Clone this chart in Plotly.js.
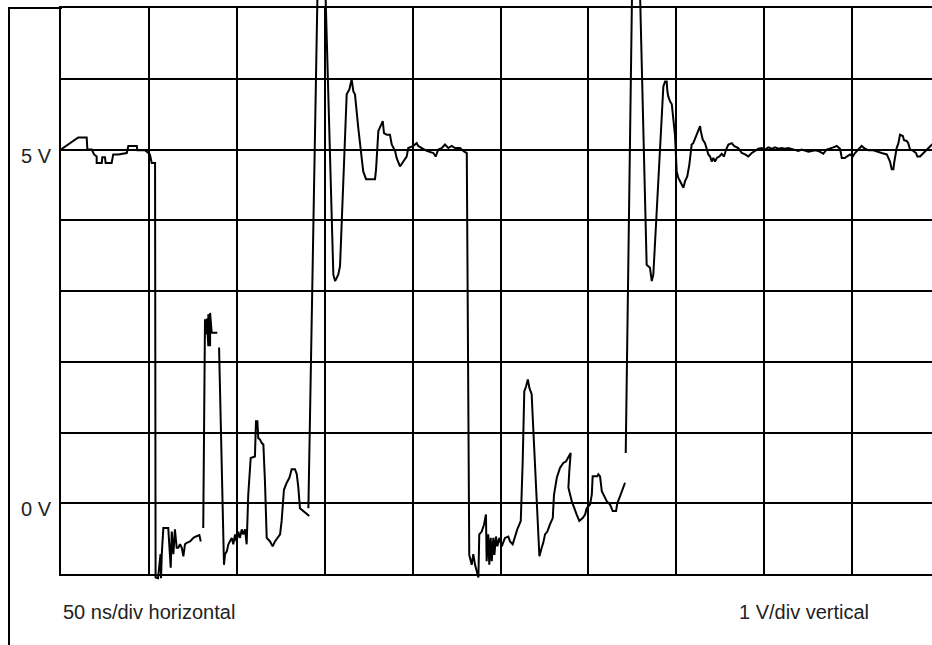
<!DOCTYPE html>
<html>
<head>
<meta charset="utf-8">
<script src="https://cdn.plot.ly/plotly-3.0.1.min.js"></script>
<style>
  html, body { margin: 0; padding: 0; background: #fff; }
  #chart { width: 932px; height: 645px; }
</style>
</head>
<body>
<div id="chart"></div>
<script>
// Time in ns (50 ns/div), voltage in V (1 V/div). null = gap in the trace.
const timeNs = [
  0, 9.8, 14.6, 15.0, 17.5, 18.8, 20.3, 20.3, 23.2, 23.5, 25.0, 25.4, 28.8, 29.7, 32.6, 37.4, 38.3, 43.1, 43.4, 47.8,
  49.7, 50.6, 51.6, 53.5, 53.8, 55.2, 56.6, 56.9, 57.3, 58.2, 61.0, 61.6, 62.4, 63.0, 63.9, 64.8, 65.8, 66.7, 67.7, 68.7,
  69.6, 70.5, 71.5, 73.4, 75.3, 76.8, 78.7, 79.5, null,
  80.9, 81.9, 81.9, 82.9, 82.9, 83.8, 83.8, 84.8, 84.8, 85.7, 88.9, null,
  89.9, 92.7, 93.3, 94.3, 95.2, 96.1, 97.1, 98.0, 99.0, 99.9, 100.8, 101.8, 102.8, 103.7, 104.7, 105.6, 106.5, 107.9, 110.3,
  110.9, 111.7, 112.2, 113.2, 114.2, 115.1, 116.0, 117.0, 118.9, 120.4, 121.7, 123.0, 124.6, 125.5, 126.8, 128.4, 129.9,
  131.2, 133.1, 134.1, 135.0, 135.9, 137.8, 139.8, 141.2, null,
  140.7, 145.9, 150.4, 154.9, 155.9, 157.7, 158.7, 162.5, 164.0, 165.3, 166.3, 167.2, 169.1, 171.9, 173.5, 178.6, 179.2,
  180.5, 183.0, 183.7, 185.3, 187.1, 188.1, 190.0, 190.9, 192.8, 194.7, 196.6, 197.5, 200.4, 202.3, 203.2, 205.2, 208.0,
  211.8, 213.1, 214.6, 216.5, 218.4, 220.3, 222.2, 224.1, 227.0, 228.8, 230.8, 232.2, 233.6, 234.5, 235.5, 236.4, 237.4,
  237.9, 239.3, 240.6, 241.7, 242.1, 243.0, 243.6, 244.4, 245.0, 245.9, 246.5, 247.4, 248.2, 249.3, 250.7, 252.5, 254.4,
  255.4, 256.9, 258.2, 259.5, 260.7, 261.5, 262.6, 263.5, 264.5, 265.5, 266.4, 267.2, 267.7, 268.6, 270.6, 272.1, 273.4,
  274.3, 275.3, 276.6, 278.1, 279.7, 280.4, 282.0, 283.8, 285.7, 287.2, 288.6, 289.9, 289.1, 288.6, 290.5, 291.8, 293.3,
  294.8, 296.7, 298.1, 299.0, 300.9, 301.9, 302.4, 305.0, 305.6, 306.6, 307.6, 308.9, 310.4, 312.3, 313.8, 315.7, 316.4,
  318.0, 318.9, 320.8, null,
  321.2, 324.8, 329.3, 333.1, 335.0, 336.0, 336.9, 342.6, 343.6, 344.5, 344.9, 345.4, 346.4, 347.4, 349.2, 350.2, 351.1,
  352.1, 354.0, 354.9, 356.2, 357.4, 358.2, 358.7, 359.6, 361.2, 362.5, 363.5, 363.9, 365.0, 366.3, 367.3, 368.2, 369.2,
  370.1, 371.0, 372.0, 373.0, 374.4, 375.8, 377.1, 378.3, 379.6, 381.5, 382.8, 385.2, 387.2, 389.1, 390.9, 392.9, 394.7,
  396.6, 398.6, 400.4, 402.3, 404.3, 406.1, 408.0, 409.9, 411.8, 413.7, 415.6, 417.5, 419.4, 421.3, 423.2, 425.1, 427.0,
  428.9, 430.7, 432.7, 433.6, 435.5, 437.4, 439.3, 441.2, 443.1, 444.1, 445.9, 446.9, 448.8, 450.3, 451.6, 453.5, 455.4,
  457.3, 459.2, 462.0, 464.0, 466.8, 469.7, 471.5, 472.5, 473.4, 474.0, 475.3, 476.3, 477.2, 478.8, 479.5, 481.0, 481.9,
  482.9, 484.8, 486.3, 487.1, 488.6, 490.5, 492.4, 493.3, 495.4, 497.7
];
const voltV = [
  5.00, 5.17, 5.17, 5.00, 5.00, 4.93, 4.90, 4.81, 4.81, 4.89, 4.89, 4.81, 4.81, 4.93, 4.93, 4.95, 5.05, 5.05, 4.99, 4.99,
  4.95, 4.93, 4.81, 4.81, -1.05, -1.06, -0.72, -1.06, -0.73, -0.35, -0.35, -0.63, -0.91, -0.40, -0.72, -0.37, -0.63, -0.63, -0.58, -0.63,
  -0.75, -0.58, -0.56, -0.54, -0.49, -0.47, -0.45, -0.54, null,
  -0.35, 2.39, 2.60, 2.39, 2.61, 2.22, 2.67, 2.22, 2.69, 2.41, 2.41, null,
  2.20, -0.87, -0.72, -0.68, -0.58, -0.54, -0.49, -0.58, -0.44, -0.54, -0.40, -0.49, -0.37, -0.44, -0.37, -0.58, 0.12, 0.64, 0.66,
  1.16, 1.16, 0.92, 0.90, 0.85, 0.83, 0.31, -0.49, -0.54, -0.61, -0.54, -0.49, -0.44, -0.25, 0.19, 0.29, 0.36,
  0.48, 0.48, 0.41, 0.22, -0.07, -0.11, -0.16, -0.18, null,
  -0.07, 7.24, 7.24, 3.23, 3.14, 3.23, 3.35, 5.78, 5.85, 5.99, 5.82, 5.78, 5.30, 4.69, 4.58, 4.58, 4.72,
  5.26, 5.40, 5.23, 5.21, 5.21, 5.07, 4.98, 4.88, 4.76, 4.83, 4.90, 5.02, 5.05, 5.09, 5.05, 5.02, 4.98,
  4.95, 4.90, 5.00, 5.02, 5.07, 5.02, 5.05, 5.02, 5.02, 4.98, 4.95, -0.73, -0.87, -0.72, -0.87, -0.96, -1.05,
  -0.44, -0.40, -0.30, -0.16, -0.82, -0.44, -0.87, -0.49, -0.82, -0.49, -0.73, -0.47, -0.61, -0.49, -0.61, -0.49, -0.47,
  -0.54, -0.58, -0.47, -0.37, -0.30, -0.25, 0.59, 1.58, 1.65, 1.75, 1.63, 1.56, 1.54, 1.06, 0.12, -0.75, -0.63,
  -0.56, -0.44, -0.40, -0.30, -0.21, 0.12, 0.36, 0.50, 0.57, 0.59, 0.66, 0.71, 0.45, 0.22, 0.03, -0.07, -0.16,
  -0.25, -0.21, -0.16, -0.07, -0.02, 0.12, 0.38, 0.38, 0.41, 0.38, 0.17, 0.10, 0.03, -0.02, -0.11, -0.11, 0.00,
  0.10, 0.17, 0.29, null,
  0.71, 7.24, 7.24, 3.37, 3.33, 3.14, 3.23, 5.89, 5.96, 5.96, 5.82, 5.75, 5.68, 5.64, 5.21, 4.69, 4.60,
  4.55, 4.46, 4.55, 4.62, 4.79, 4.93, 5.07, 5.09, 5.19, 5.26, 5.33, 5.26, 5.14, 5.09, 5.02, 4.93, 4.90,
  4.83, 4.88, 4.83, 4.88, 4.90, 4.94, 4.90, 5.00, 5.07, 5.09, 5.05, 5.02, 4.95, 4.93, 4.90, 4.95, 4.98,
  5.01, 5.02, 5.00, 5.03, 5.01, 5.03, 5.01, 5.02, 5.01, 5.02, 5.01, 4.99, 4.98, 5.00, 4.99, 4.97, 4.98,
  4.99, 4.98, 4.95, 4.94, 5.00, 5.01, 5.03, 5.05, 5.01, 4.88, 4.88, 4.90, 4.93, 4.90, 4.95, 5.00, 5.05,
  5.01, 4.99, 4.99, 4.97, 4.95, 4.93, 4.83, 4.72, 4.72, 4.83, 5.02, 5.09, 5.21, 5.19, 5.13, 5.12, 5.09,
  5.00, 4.98, 4.95, 4.90, 4.90, 4.95, 5.00, 5.02, 5.07, 5.07
];
const yTickVals = [-1, 0, 1, 2, 3, 4, 5, 6, 7];
const yTickText = ['', '0 V', '', '', '', '', '5 V', '', ''];
const captionLeft = '50 ns/div horizontal';
const captionRight = '1 V/div vertical';

const FONT = 'Liberation Sans, Arial, Helvetica, sans-serif';
const W = 932, H = 645;
const px = v => v / W;          // horizontal pixel -> paper
const py = v => 1 - v / H;      // vertical pixel -> paper
const X_RANGE = [0, 495.4];

// Invisible helper trace keeps the grid subplot alive.
const gridTrace = { x: [null], y: [null], xaxis: 'x', yaxis: 'y', type: 'scatter', mode: 'lines', hoverinfo: 'skip' };
const trace = {
  x: timeNs, y: voltV, xaxis: 'x2', yaxis: 'y2', type: 'scatter', mode: 'lines',
  connectgaps: false,
  line: { color: '#000', width: 2 },
  hoverinfo: 'skip'
};

const layout = {
  width: W, height: H,
  margin: { l: 0, r: 0, t: 0, b: 0 },
  paper_bgcolor: '#fff', plot_bgcolor: 'rgba(0,0,0,0)',
  showlegend: false,
  xaxis: {
    domain: [px(61), 1], anchor: 'y', range: X_RANGE, tick0: 0, dtick: 50,
    showgrid: true, gridcolor: '#000', gridwidth: 2,
    showline: true, mirror: true, linecolor: '#000', linewidth: 2,
    zeroline: false, showticklabels: false, ticks: '', fixedrange: true
  },
  yaxis: {
    domain: [py(574), py(8)], anchor: 'x', range: [-1, 7],
    tickmode: 'array', tickvals: yTickVals, ticktext: yTickText,
    showgrid: true, gridcolor: '#000', gridwidth: 2,
    showline: true, mirror: false, linecolor: '#000', linewidth: 2,
    zeroline: false, ticks: '', ticklabelstandoff: 4, ticklabelshift: 6,
    tickfont: { family: FONT, size: 20, color: '#222' }, fixedrange: true
  },
  xaxis2: {
    domain: [px(61), 1], anchor: 'y2', range: X_RANGE, visible: false, fixedrange: true
  },
  yaxis2: {
    domain: [py(580), 1], anchor: 'x2', range: [-1.085, 7.113], visible: false, fixedrange: true
  },
  shapes: [
    { type: 'line', xref: 'paper', yref: 'paper', x0: px(9), x1: px(62), y0: py(8), y1: py(8),
      line: { color: '#000', width: 2 } },
    { type: 'line', xref: 'paper', yref: 'paper', x0: px(9), x1: px(9), y0: 0, y1: py(7),
      line: { color: '#000', width: 2 } }
  ],
  annotations: [
    { xref: 'paper', yref: 'paper', x: px(61), y: py(612), xanchor: 'left', yanchor: 'middle',
      text: captionLeft, showarrow: false, font: { family: FONT, size: 20, color: '#222' } },
    { xref: 'paper', yref: 'paper', x: px(737), y: py(612), xanchor: 'left', yanchor: 'middle',
      text: captionRight, showarrow: false, font: { family: FONT, size: 20, color: '#222' } }
  ]
};

Plotly.newPlot('chart', [gridTrace, trace], layout, { displayModeBar: false, staticPlot: true });
</script>
</body>
</html>
